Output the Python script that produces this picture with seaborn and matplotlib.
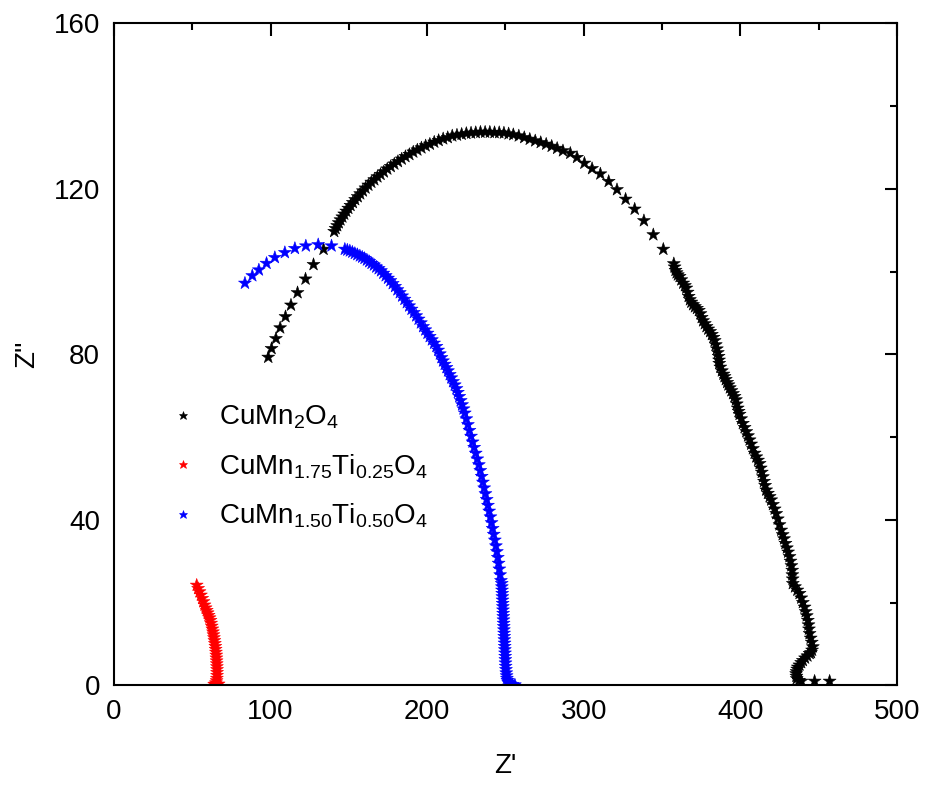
import numpy as np
import pandas as pd
import matplotlib
matplotlib.use("Agg")
import matplotlib.pyplot as plt
import seaborn as sns
from matplotlib.ticker import MultipleLocator

# ---------------- data ----------------
labels = [r"CuMn$_2$O$_4$",
          r"CuMn$_{1.75}$Ti$_{0.25}$O$_4$",
          r"CuMn$_{1.50}$Ti$_{0.50}$O$_4$"]
colors = ["#000000", "#ff0000", "#0000ff"]

cumn2o4_x = [98.5, 100.6, 103.4, 106.1, 109.5, 113.0, 117.2, 122.3, 127.4, 133.8,
             140.6, 141.5, 142.5, 143.5, 144.6, 145.8, 147.0, 148.3, 149.6, 151.0,
             152.5, 154.0, 155.6, 157.2, 158.9, 160.6, 162.4, 164.3, 166.2, 168.2,
             170.2, 172.3, 174.5, 176.7, 179.0, 181.3, 183.7, 186.1, 188.6, 191.1,
             193.7, 196.3, 199.0, 201.7, 204.5, 207.3, 210.2, 213.1, 216.0, 219.0,
             222.0, 225.0, 228.0, 231.0, 234.0, 237.0, 240.0, 243.0, 246.0, 249.0,
             252.0, 255.0, 258.5, 262.0, 265.5, 269.0, 272.5, 276.0, 279.5, 283.0,
             286.7, 291.4, 295.7, 300.4, 305.3, 310.6, 315.9, 321.2, 326.7, 332.5,
             338.4, 344.4, 350.8,
             357.5, 358.0, 358.6, 359.3, 360.1, 361.2, 362.3, 363.5, 364.6, 365.5,
             366.3, 367.0, 367.8, 368.7, 369.8, 371.0, 372.3, 373.5, 374.5, 375.3,
             376.2, 377.3, 378.4, 379.5, 380.7, 381.8, 382.8, 383.6, 384.3, 385.0,
             385.6, 386.1, 386.4, 386.5, 387.2, 388.2, 389.2, 389.9, 390.7, 391.6,
             392.4, 393.3, 394.3, 395.3, 396.3, 397.2, 397.7, 398.3, 398.9, 399.5,
             400.5, 401.6, 402.7, 403.8, 404.9, 405.9, 406.9, 408.0, 409.1, 410.2,
             411.3, 412.3, 413.0, 413.7, 414.4, 415.1, 415.8, 416.5, 417.6, 418.7,
             419.7, 420.8, 421.9, 422.9, 423.9, 425.0, 426.1, 427.0, 427.9, 428.8,
             429.7, 430.5, 431.4, 432.0, 432.6, 433.1, 433.2, 433.4, 433.5, 434.9,
             436.4, 437.8, 438.9, 439.9, 441.0, 441.7, 442.4, 443.1, 443.5, 443.8,
             444.2, 444.9, 445.6, 446.3, 445.8, 445.1, 444.2, 442.8, 441.3, 439.9,
             438.8, 437.7, 436.7, 436.3, 435.9, 435.6, 435.8, 436.0, 437.5, 439.0,
             447.4, 457.0]
cumn2o4_y = [79.3, 81.4, 83.8, 86.4, 89.1, 91.9, 94.9, 98.2, 101.7, 105.4,
             109.7, 110.4, 111.1, 111.8, 112.5, 113.2, 113.9, 114.6, 115.3, 116.0,
             116.7, 117.4, 118.1, 118.8, 119.5, 120.2, 120.9, 121.6, 122.2, 122.9,
             123.5, 124.1, 124.8, 125.4, 126.0, 126.6, 127.2, 127.8, 128.3, 128.9,
             129.4, 129.9, 130.4, 130.8, 131.3, 131.7, 132.1, 132.4, 132.8, 133.0,
             133.2, 133.4, 133.5, 133.6, 133.7, 133.7, 133.7, 133.6, 133.6, 133.5,
             133.3, 133.1, 132.8, 132.4, 132.0, 131.6, 131.2, 130.8, 130.3, 129.8,
             129.2, 128.6, 127.6, 126.2, 124.9, 123.6, 121.8, 119.8, 117.5, 115.1,
             112.3, 108.9, 105.4,
             101.9, 101.1, 100.3, 99.7, 99.2, 98.8, 98.0, 97.2, 96.6, 96.0,
             95.0, 94.0, 93.2, 92.6, 92.0, 91.5, 91.1, 90.6, 89.8, 88.9,
             88.1, 87.4, 86.7, 86.1, 85.5, 84.8, 84.1, 83.3, 82.3, 81.3,
             80.4, 79.5, 78.6, 77.8, 76.9, 76.0, 75.2, 74.6, 73.9, 73.2,
             72.6, 71.9, 71.2, 70.5, 69.8, 69.0, 68.0, 67.0, 66.2, 65.5,
             64.4, 63.3, 62.3, 61.3, 60.3, 59.3, 58.3, 57.2, 56.1, 55.2,
             54.4, 53.6, 52.5, 51.5, 50.4, 49.3, 48.3, 47.2, 46.4, 45.6,
             44.8, 43.7, 42.6, 41.5, 40.2, 38.8, 37.5, 36.4, 35.4, 34.3,
             33.2, 32.2, 31.1, 30.0, 28.9, 27.8, 26.7, 25.7, 24.6, 23.8,
             23.0, 22.2, 21.1, 20.0, 18.9, 17.8, 16.8, 15.7, 14.6, 13.6,
             12.5, 11.4, 10.4, 9.3, 8.5, 7.9, 7.7, 7.1, 6.6, 6.0,
             5.5, 4.9, 4.4, 3.9, 3.3, 2.8, 2.2, 1.6, 1.2, 1.0,
             1.0, 1.0]

ti025_x = [52.8, 53.7, 54.6, 55.5, 56.3, 57.1, 57.8, 58.5, 59.2, 59.8,
           60.4, 61.0, 61.6, 62.0, 62.4, 62.8, 63.2, 63.5, 63.8, 64.1,
           64.4, 64.7, 64.9, 65.1, 65.3, 65.4, 65.5, 65.6, 65.7, 65.8,
           65.8, 65.8, 65.7, 65.5, 65.1, 64.6, 64.0, 66.0, 66.8]
ti025_y = [24.2, 23.4, 22.6, 21.8, 21.0, 20.2, 19.4, 18.7, 18.1, 17.5,
           16.9, 16.3, 15.7, 15.0, 14.3, 13.6, 12.9, 12.2, 11.5, 10.8,
           10.1, 9.4, 8.7, 8.0, 7.3, 6.6, 5.9, 5.2, 4.5, 3.8,
           3.1, 2.4, 1.7, 1.1, 0.6, 0.3, 0.2, 0.2, 0.3]

ti050_x = [83.6, 88.3, 92.5, 97.4, 102.7, 109.1, 115.5, 122.5, 130.4, 138.9,
           147.4, 149.0, 150.6, 152.2, 153.8, 155.4, 157.0, 158.5, 160.0, 161.5,
           163.0, 164.5, 166.0, 167.5, 169.0, 170.5, 172.0, 173.5, 175.0, 176.5,
           178.0, 179.5, 181.0, 182.5, 184.0, 185.5, 187.0, 188.5, 190.0, 191.5,
           193.0, 194.5, 196.0, 197.4, 198.8, 200.2, 201.6, 203.0, 204.4, 205.9,
           207.0, 208.1, 209.1, 210.1, 211.2, 212.3, 213.3, 214.4, 215.4, 216.5,
           217.6, 218.7, 219.6, 220.5, 221.4, 222.3, 223.2, 224.0, 225.0, 226.0,
           227.0, 228.0, 229.0, 230.0, 231.0, 232.0, 233.0, 233.9, 234.8, 235.6,
           236.4, 237.2, 238.0, 238.8, 239.6, 240.4, 241.1, 241.8, 242.5, 243.2,
           243.9, 244.5, 245.1, 245.6, 246.1, 246.6, 247.1,
           247.6, 247.7, 247.8, 247.9, 248.0, 248.1, 248.2, 248.3, 248.4, 248.5,
           248.6, 248.7, 248.8, 248.9, 249.0, 249.1, 249.2, 249.3, 249.4, 249.5,
           249.6, 249.7, 249.8, 249.9, 250.0, 250.1, 250.3, 250.5, 250.7, 250.9,
           251.2, 251.6, 252.3, 253.2, 254.4, 256.0]
ti050_y = [97.2, 99.0, 100.4, 102.0, 103.4, 104.6, 105.6, 106.2, 106.5, 106.2,
           105.4, 105.2, 105.0, 104.7, 104.4, 104.1, 103.8, 103.5, 103.2, 102.8,
           102.4, 102.0, 101.6, 101.1, 100.7, 100.2, 99.6, 99.0, 98.4, 97.8,
           97.1, 96.4, 95.6, 94.9, 94.1, 93.3, 92.5, 91.7, 90.9, 90.1,
           89.3, 88.5, 87.6, 86.7, 85.9, 85.1, 84.3, 83.5, 82.7, 81.9,
           81.0, 80.1, 79.2, 78.4, 77.6, 76.8, 76.0, 75.1, 74.3, 73.4,
           72.6, 71.7, 70.8, 69.8, 68.8, 67.8, 66.8, 65.8, 64.4, 63.0,
           61.6, 60.2, 58.8, 57.5, 56.1, 54.7, 53.3, 51.9, 50.5, 49.1,
           47.7, 46.3, 44.9, 43.5, 42.1, 40.7, 39.3, 37.9, 36.5, 35.1,
           33.7, 32.3, 30.9, 29.5, 28.1, 26.7, 25.3,
           24.6, 23.8, 23.0, 22.2, 21.4, 20.6, 19.8, 19.0, 18.2, 17.4,
           16.6, 15.8, 15.0, 14.2, 13.4, 12.6, 11.8, 11.0, 10.2, 9.4,
           8.6, 7.8, 7.0, 6.2, 5.4, 4.6, 3.8, 3.0, 2.3, 1.7,
           1.2, 0.8, 0.5, 0.3, 0.2, 0.1]

x_ticks = [0, 100, 200, 300, 400, 500]
y_ticks = [0, 40, 80, 120, 160]

# ---------------- build table ----------------
df = pd.concat([
    pd.DataFrame({"Z'": cumn2o4_x, "Z''": cumn2o4_y, "sample": labels[0]}),
    pd.DataFrame({"Z'": ti025_x, "Z''": ti025_y, "sample": labels[1]}),
    pd.DataFrame({"Z'": ti050_x, "Z''": ti050_y, "sample": labels[2]}),
], ignore_index=True)

# ---------------- style ----------------
sns.set_style("white")
plt.rcParams["font.family"] = ["Liberation Sans", "DejaVu Sans"]
plt.rcParams["mathtext.default"] = "regular"
plt.rcParams["axes.linewidth"] = 1.5
plt.rcParams["text.color"] = "black"
plt.rcParams["axes.labelcolor"] = "black"
plt.rcParams["xtick.color"] = "black"
plt.rcParams["ytick.color"] = "black"

fig = plt.figure(figsize=(9.27, 7.85), dpi=100)
ax = fig.add_axes([0.123, 0.127, 0.8446, 0.8433])

sns.scatterplot(data=df, x="Z'", y="Z''", hue="sample", hue_order=labels,
                palette=dict(zip(labels, colors)), marker="*", s=95,
                linewidth=0.4, edgecolor="face", ax=ax, legend=True)

ax.set_xlim(0, 500)
ax.set_ylim(0, 160)
ax.set_xticks(x_ticks)
ax.set_yticks(y_ticks)
ax.xaxis.set_minor_locator(MultipleLocator(50))
ax.yaxis.set_minor_locator(MultipleLocator(20))
ax.tick_params(which="both", direction="in", top=True, right=True,
               width=1.5, colors="black", labelsize=20, pad=10)
ax.tick_params(which="major", length=9)
ax.tick_params(which="minor", length=5)
for sp in ax.spines.values():
    sp.set_color("black")
    sp.set_linewidth(1.5)

ax.set_xlabel("Z'", fontsize=20, labelpad=20, color="black")
ax.set_ylabel("Z''", fontsize=20, labelpad=10, color="black")

leg = ax.legend(loc="upper left", bbox_to_anchor=(0.056, 0.442), frameon=False,
                fontsize=20, markerscale=0.65, handletextpad=0.8,
                labelspacing=0.75, handlelength=1.0, borderaxespad=0)
for t in leg.get_texts():
    t.set_color("black")

fig.savefig("out.png", dpi=100)
